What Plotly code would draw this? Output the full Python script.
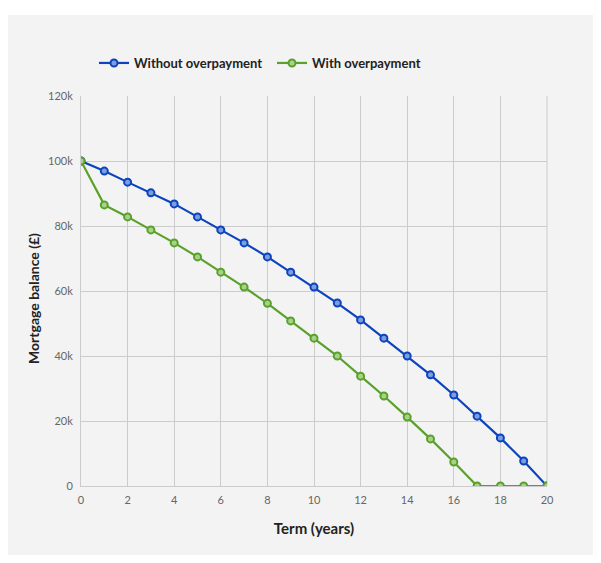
import plotly.graph_objects as go

years = list(range(0, 21))
without_overpayment = [100000, 96900, 93500, 90200, 86800, 82800, 78800, 74800, 70500, 65800,
                       61200, 56300, 51100, 45500, 40000, 34200, 28000, 21500, 14800, 7700, 0]
with_overpayment = [100000, 86500, 82800, 78800, 74800, 70500, 65800, 61200, 56200, 50800,
                    45500, 40000, 33800, 27700, 21200, 14500, 7400, 0, 0, 0, 0]

x_ticks = [0, 2, 4, 6, 8, 10, 12, 14, 16, 18, 20]
y_ticks = [0, 20000, 40000, 60000, 80000, 100000, 120000]
y_tick_labels = ["0", "20k", "40k", "60k", "80k", "100k", "120k"]

BLUE = "#0b44be"
GREEN = "#5aa12b"
FONT = "Lato"

fig = go.Figure()
fig.add_trace(go.Scatter(
    x=years, y=without_overpayment, mode="lines+markers", name="Without overpayment",
    line=dict(color=BLUE, width=2.2),
    marker=dict(symbol="circle", size=7, color="#7f9ddc", line=dict(color=BLUE, width=2)),
))
fig.add_trace(go.Scatter(
    x=years, y=with_overpayment, mode="lines+markers", name="With overpayment",
    line=dict(color=GREEN, width=2.2),
    marker=dict(symbol="circle", size=7, color="#a8d28a", line=dict(color=GREEN, width=2)),
))

# page body has an 8px margin; figure coordinates = page coordinates - 8
OFF = 8
W, H = 585, 547
L, T = 81 - OFF, 96 - OFF
R = W - (547 - OFF)
B = H - (486 - OFF)
pw, ph = W - L - R, H - T - B


def px_x(page_x):
    return (page_x - OFF - L) / pw


def px_y(page_y):
    return (H - B - (page_y - OFF)) / ph


# grey panel behind the chart
fig.add_shape(type="rect", xref="paper", yref="paper", layer="below",
              x0=px_x(5), x1=px_x(595), y0=px_y(555), y1=px_y(15),
              fillcolor="#f3f3f3", line=dict(width=0))
fig.add_shape(type="line", xref="paper", yref="paper", x0=1, x1=1, y0=0, y1=1,
              line=dict(color="#cccccc", width=1), layer="below")

# y-axis title
fig.add_annotation(text="Mortgage balance (£)", xref="paper", yref="paper",
                   x=px_x(33), y=px_y(299), xanchor="center", yanchor="middle",
                   textangle=-90, showarrow=False,
                   font=dict(family=FONT, size=14, color="#222222", weight="bold"))

fig.update_layout(
    width=W, height=H,
    margin=dict(l=L, r=R, t=T, b=B, pad=0),
    paper_bgcolor="white",
    plot_bgcolor="#f3f3f3",
    font=dict(family=FONT, color="#666666", size=11),
    showlegend=True,
    legend=dict(orientation="h", x=px_x(94), xanchor="left",
                y=px_y(63), yanchor="middle",
                font=dict(family=FONT, size=13, color="#222222", weight="bold"),
                bgcolor="rgba(0,0,0,0)", entrywidth=133, traceorder="normal"),
    xaxis=dict(range=[0, 20], tickvals=x_ticks, showgrid=True, gridcolor="#cccccc", gridwidth=1,
               showline=True, linecolor="#cccccc", zeroline=False, ticks="",
               ticklabelstandoff=4,
               tickfont=dict(color="#666666", size=11),
               title=dict(text="Term (years)", standoff=18,
                          font=dict(family=FONT, size=15, color="#222222", weight="bold"))),
    yaxis=dict(range=[0, 120000], tickvals=y_ticks, ticktext=y_tick_labels,
               showgrid=True, gridcolor="#cccccc", gridwidth=1, showline=True, linecolor="#cccccc",
               zeroline=False, ticks="", ticklabelstandoff=5,
               tickfont=dict(color="#666666", size=11)),
)

fig.write_html("out.html")
